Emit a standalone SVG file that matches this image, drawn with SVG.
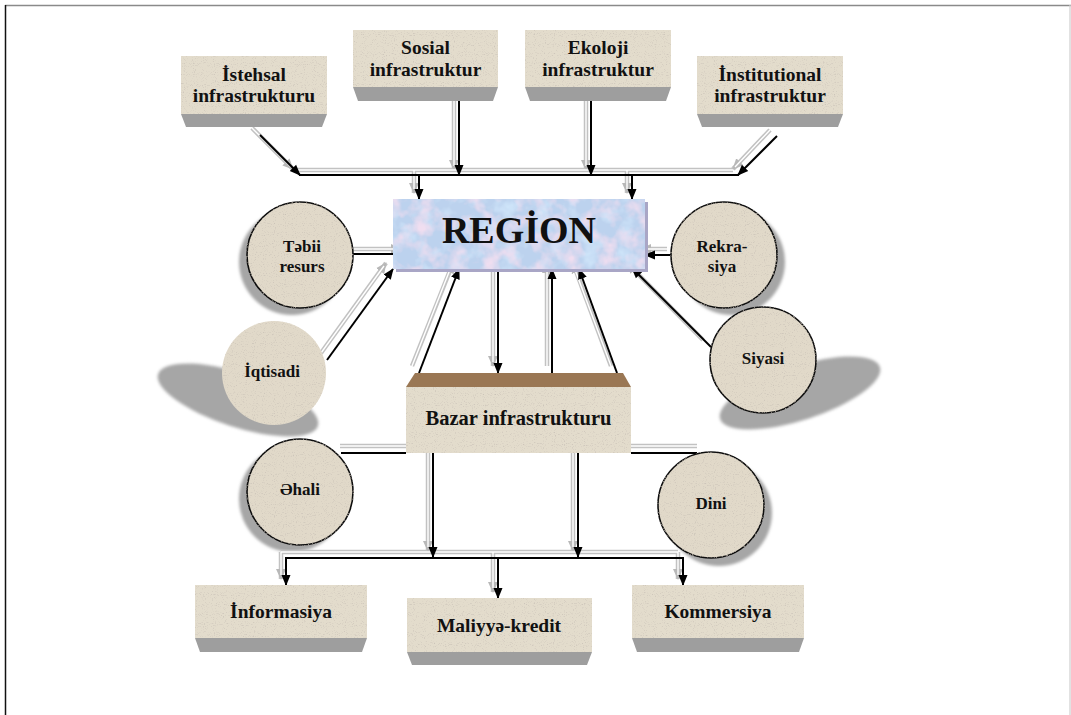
<svg xmlns="http://www.w3.org/2000/svg" width="1071" height="715" viewBox="0 0 1071 715">
<style>
.box{fill:#e3dccc;filter:url(#grain)}
.bev{fill:#9e9e9e}
.cir{fill:#e1d9c9;stroke:#111;stroke-width:1.6;filter:url(#grain)}
.csh{fill:#a6a6a6;filter:url(#soft)}
.t{font-family:"Liberation Serif","Times New Roman",serif;font-weight:bold;fill:#111;text-anchor:middle}
.tb{font-size:19.5px}
.tc{font-size:17px}
.ln{fill:none;stroke:#000;stroke-width:2}
.sh{fill:none;stroke:#c2c2c2;stroke-width:4.5}
.shw{fill:none;stroke:#fff;stroke-width:1.4}
</style>
<defs>
<marker id="ah" markerUnits="userSpaceOnUse" markerWidth="11" markerHeight="10" refX="10" refY="5" orient="auto">
<path d="M0,0.5 L11,5 L0,9.5 z" fill="#000"/>
</marker>
<marker id="ahg" markerUnits="userSpaceOnUse" markerWidth="11" markerHeight="11" refX="10" refY="5.5" orient="auto">
<path d="M0,0.5 L11,5.5 L0,10.5 z" fill="#b8b8b8"/>
</marker>
<filter id="grain">
<feTurbulence type="fractalNoise" baseFrequency="0.9" numOctaves="1" seed="5" result="n"/>
<feColorMatrix in="n" type="matrix" values="0 0 0 0 0.55  0 0 0 0 0.5  0 0 0 0 0.45  3 0 0 0 -1.7" result="sp"/>
<feComposite in="sp" in2="SourceGraphic" operator="in" result="sp2"/>
<feMerge><feMergeNode in="SourceGraphic"/><feMergeNode in="sp2"/></feMerge>
</filter>
<filter id="marble" x="0" y="0" width="1" height="1">
<feTurbulence type="fractalNoise" baseFrequency="0.06" numOctaves="3" seed="7" result="n"/>
<feColorMatrix in="n" type="matrix" values="0 0 0 0 0.87  0 0 0 0 0.73  0 0 0 0 0.87  2.5 0 0 0 -1.05" result="pink"/>
<feComposite in="pink" in2="SourceGraphic" operator="in" result="p2"/>
<feColorMatrix in="n" type="matrix" values="0 0 0 0 0.62  0 0 0 0 0.78  0 0 0 0 0.95  0 2.5 0 0 -1.15" result="blue"/>
<feComposite in="blue" in2="SourceGraphic" operator="in" result="b2"/>
<feMerge><feMergeNode in="SourceGraphic"/><feMergeNode in="b2"/><feMergeNode in="p2"/></feMerge>
</filter>
<filter id="soft" x="-20%" y="-20%" width="140%" height="140%">
<feGaussianBlur stdDeviation="1.5"/>
</filter>
</defs>

<rect width="1071" height="715" fill="#fff"/>
<g id="frame">
<line x1="5" y1="5.5" x2="1071" y2="5.5" stroke="#8a8a8a" stroke-width="1.5"/>
<line x1="5.5" y1="5" x2="5.5" y2="715" stroke="#111" stroke-width="1.5"/>
<line x1="1070" y1="5" x2="1070" y2="715" stroke="#cfcfcf" stroke-width="1.2"/>
</g>

<g id="circle-shadows">
<circle class="csh" cx="292" cy="262" r="53"/>
<ellipse class="csh" cx="238" cy="400" rx="84" ry="27" transform="rotate(18 238 400)"/>
<circle class="csh" cx="732" cy="262" r="53"/>
<ellipse class="csh" cx="800" cy="393" rx="84" ry="27" transform="rotate(-18 800 393)"/>
<circle class="csh" cx="292" cy="499" r="53"/>
<circle class="csh" cx="719" cy="513" r="53"/>
</g>

<g id="connectors">
<g id="connector-shadows">
<path class="sh" d="M294,170 H733 M340,446 H406 M631,446 H697 M281,552 H678"/>
<path class="sh" d="M252,128 L293,169" marker-end="url(#ahg)"/>
<path class="sh" d="M454,87 V170" marker-end="url(#ahg)"/>
<path class="sh" d="M586,87 V170" marker-end="url(#ahg)"/>
<path class="sh" d="M770,130 L733,169" marker-end="url(#ahg)"/>
<path class="sh" d="M414,170 V193" marker-end="url(#ahg)"/>
<path class="sh" d="M627,170 V193" marker-end="url(#ahg)"/>
<path class="sh" d="M353,249 H401" marker-end="url(#ahg)"/>
<path class="sh" d="M321,353 L386,263" marker-end="url(#ahg)"/>
<path class="sh" d="M412,366 L453,263" marker-end="url(#ahg)"/>
<path class="sh" d="M493,263 V366" marker-end="url(#ahg)"/>
<path class="sh" d="M547,366 V263" marker-end="url(#ahg)"/>
<path class="sh" d="M611,366 L573,263" marker-end="url(#ahg)"/>
<path class="sh" d="M667,249 H641" marker-end="url(#ahg)"/>
<path class="sh" d="M703,340 L627,263" marker-end="url(#ahg)"/>
<path class="sh" d="M428,453 V551" marker-end="url(#ahg)"/>
<path class="sh" d="M573,453 V551" marker-end="url(#ahg)"/>
<path class="sh" d="M281,552 V579" marker-end="url(#ahg)"/>
<path class="sh" d="M493,552 V592" marker-end="url(#ahg)"/>
<path class="sh" d="M678,552 V579" marker-end="url(#ahg)"/>
<path class="shw" d="M252,128 L291,167 M294,170 H733 M454,87 V166 M586,87 V166 M770,130 L735,167 M414,170 V189 M627,170 V189 M353,249 H397 M321,353 L384,266 M412,366 L451,267 M493,263 V362 M547,366 V267 M611,366 L574,267 M667,249 H645 M703,340 L630,266 M340,446 H406 M631,446 H697 M428,453 V547 M573,453 V547 M281,552 H678 M281,552 V575 M493,552 V588 M678,552 V575"/>
</g>
<g id="connector-lines">
<path class="ln" d="M260,135 L300,175" marker-end="url(#ah)"/>
<path class="ln" d="M299,175 H739"/>
<path class="ln" d="M459,96 V175" marker-end="url(#ah)"/>
<path class="ln" d="M591,96 V175" marker-end="url(#ah)"/>
<path class="ln" d="M777,136 L738,175" marker-end="url(#ah)"/>
<path class="ln" d="M419,175 V199" marker-end="url(#ah)"/>
<path class="ln" d="M632,175 V199" marker-end="url(#ah)"/>
<path class="ln" d="M353,254 H407" marker-end="url(#ah)"/>
<path class="ln" d="M327,360 L393,269" marker-end="url(#ah)"/>
<path class="ln" d="M419,373 L459,269" marker-end="url(#ah)"/>
<path class="ln" d="M498,269 V373" marker-end="url(#ah)"/>
<path class="ln" d="M552,373 V269" marker-end="url(#ah)"/>
<path class="ln" d="M617,373 L579,269" marker-end="url(#ah)"/>
<path class="ln" d="M671,255 H645" marker-end="url(#ah)"/>
<path class="ln" d="M711,347 L632,268" marker-end="url(#ah)"/>
<path class="ln" d="M341,453 H406"/>
<path class="ln" d="M631,453 H697"/>
<path class="ln" d="M433,453 V557" marker-end="url(#ah)"/>
<path class="ln" d="M578,453 V557" marker-end="url(#ah)"/>
<path class="ln" d="M285,558 H684"/>
<path class="ln" d="M286,557 V585" marker-end="url(#ah)"/>
<path class="ln" d="M498,558 V598" marker-end="url(#ah)"/>
<path class="ln" d="M683,557 V585" marker-end="url(#ah)"/>
</g>
</g>

<g id="istehsal">
<polygon class="bev" points="181,114 327,114 322,127 186,127"/>
<rect class="box" x="181" y="56" width="146" height="58"/>
<text class="t tb" x="254" y="81">İstehsal</text>
<text class="t tb" x="254" y="102">infrastrukturu</text>
</g>
<g id="sosial">
<polygon class="bev" points="353,87 498,87 493,101 358,101"/>
<rect class="box" x="353" y="30" width="145" height="57"/>
<text class="t tb" x="425.5" y="54">Sosial</text>
<text class="t tb" x="425.5" y="76">infrastruktur</text>
</g>
<g id="ekoloji">
<polygon class="bev" points="525,87 671,87 666,101 530,101"/>
<rect class="box" x="525" y="30" width="146" height="57"/>
<text class="t tb" x="598" y="54">Ekoloji</text>
<text class="t tb" x="598" y="76">infrastruktur</text>
</g>
<g id="institutional">
<polygon class="bev" points="697,114 843,114 838,127 702,127"/>
<rect class="box" x="697" y="56" width="146" height="58"/>
<text class="t tb" x="770" y="81">İnstitutional</text>
<text class="t tb" x="770" y="102">infrastruktur</text>
</g>

<g id="region">
<rect x="396" y="202" width="252" height="70" fill="#a9a6c6"/>
<rect x="393" y="199" width="252" height="70" fill="#bcd2ee" filter="url(#marble)"/>
<text class="t" x="519" y="243" font-size="38">REGİON</text>
</g>

<g id="tebii">
<circle class="cir" cx="300" cy="255" r="53"/>
<text class="t tc" x="302" y="252">Təbii</text>
<text class="t tc" x="302" y="272">resurs</text>
</g>
<g id="iqtisadi">
<circle class="cir" cx="274" cy="373" r="52" style="stroke:none"/>
<text class="t tc" x="272" y="377">İqtisadi</text>
</g>
<g id="rekrasiya">
<circle class="cir" cx="724" cy="255" r="53"/>
<text class="t tc" x="722" y="252">Rekra-</text>
<text class="t tc" x="722" y="272">siya</text>
</g>
<g id="siyasi">
<circle class="cir" cx="763" cy="360" r="53"/>
<text class="t tc" x="763" y="364">Siyasi</text>
</g>
<g id="ehali">
<circle class="cir" cx="300" cy="492" r="53"/>
<text class="t tc" x="300" y="495">Əhali</text>
</g>
<g id="dini">
<circle class="cir" cx="711" cy="505" r="53"/>
<text class="t tc" x="711" y="509">Dini</text>
</g>

<g id="bazar">
<polygon points="415,373 623,373 631,387 406,387" fill="#9a7754"/>
<rect class="box" x="406" y="387" width="225" height="66"/>
<text class="t" x="518.5" y="425" font-size="20.5">Bazar infrastrukturu</text>
</g>

<g id="informasiya">
<polygon class="bev" points="195,638 367,638 362,652 200,652"/>
<rect class="box" x="195" y="585" width="172" height="53"/>
<text class="t tb" x="281" y="618">İnformasiya</text>
</g>
<g id="maliyye">
<polygon class="bev" points="407,652 592,652 587,665 412,665"/>
<rect class="box" x="407" y="598" width="185" height="54"/>
<text class="t tb" x="499" y="632">Maliyyə-kredit</text>
</g>
<g id="kommersiya">
<polygon class="bev" points="632,638 804,638 799,652 637,652"/>
<rect class="box" x="632" y="585" width="172" height="53"/>
<text class="t tb" x="718" y="618">Kommersiya</text>
</g>
</svg>
